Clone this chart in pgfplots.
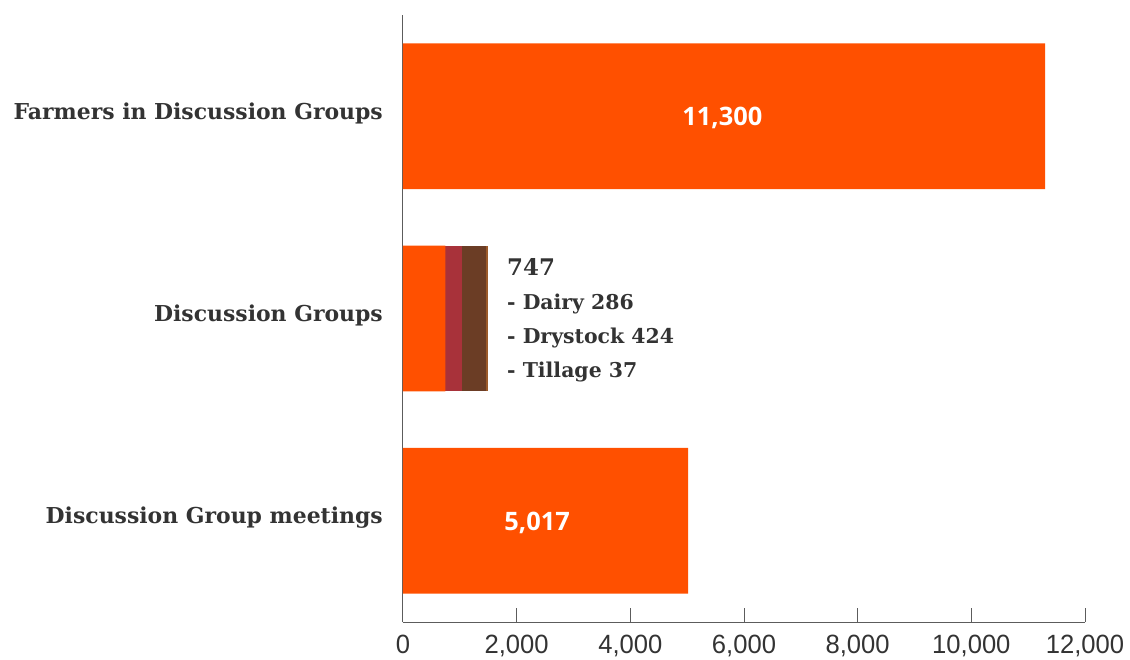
\documentclass[border=0pt]{standalone}
\usepackage{fontspec}
\usepackage{pgfplots}
\pgfplotsset{compat=1.18}
\setmainfont{DejaVu Serif}
\newfontfamily\tickfont{Liberation Sans}[FakeStretch=0.97]
\newfontfamily\numfont{Open Sans}
\definecolor{orangeA}{HTML}{FF5000}
\definecolor{redB}{HTML}{A8323A}
\definecolor{brownC}{HTML}{6B3D25}
\definecolor{brownD}{HTML}{9C5A2A}
\definecolor{txt}{HTML}{333333}
\begin{document}
\begin{tikzpicture}
\path[use as bounding box] (-403bp,-38bp) rectangle (727bp,622bp);
\begin{axis}[
  at={(0,0)}, anchor=south west,
  scale only axis, width=682bp, height=607bp,
  xmin=0, xmax=12000, ymin=-0.5, ymax=2.5,
  axis lines*=left,
  axis line style={draw=txt!80, line width=1pt},
  xbar, bar width=0.72, bar shift=0pt,
  xtick={0,2000,4000,6000,8000,10000,12000},
  scaled x ticks=false,
  tick align=inside,
  major tick length=14bp,
  x tick style={draw=txt!80, line width=1pt},
  /pgf/number format/1000 sep={,},
  /pgf/number format/assume math mode=true,
  xticklabel style={font=\tickfont\fontsize{26.5}{26.5}\selectfont, text=txt, yshift=-10bp},
  ytick={0,1,2},
  yticklabels={Discussion Group meetings, Discussion Groups, Farmers in Discussion Groups},
  y tick style={draw=none},
  yticklabel style={font=\bfseries\fontsize{22}{22}\selectfont, text=txt, anchor=east, inner sep=0pt, xshift=-20bp, yshift=3bp},
  clip=false,
]
% middle bar: cumulative ends (747 + 286 + 424 + 37)
\addplot[fill=brownD, draw=none] coordinates {(1494,1)};
\addplot[fill=brownC, draw=none] coordinates {(1457,1)};
\addplot[fill=redB, draw=none] coordinates {(1033,1)};
\addplot[fill=orangeA, draw=none] coordinates {(5017,0) (747,1) (11300,2)};
\node[text=white, font=\numfont\bfseries\fontsize{25.5}{25.5}\selectfont, yshift=-2bp] at (axis cs:5620,2) {11,300};
\node[text=white, font=\numfont\bfseries\fontsize{25.5}{25.5}\selectfont, yshift=-2bp] at (axis cs:2360,0) {5,017};
\node[anchor=west, align=left, text=txt, inner sep=0pt, font=\bfseries\fontsize{20.5}{34}\selectfont] at (axis cs:1830,0.99)
  {{\fontsize{23}{34}\selectfont 747}\\- Dairy 286\\- Drystock 424\\- Tillage 37};
\end{axis}
\end{tikzpicture}
\end{document}
